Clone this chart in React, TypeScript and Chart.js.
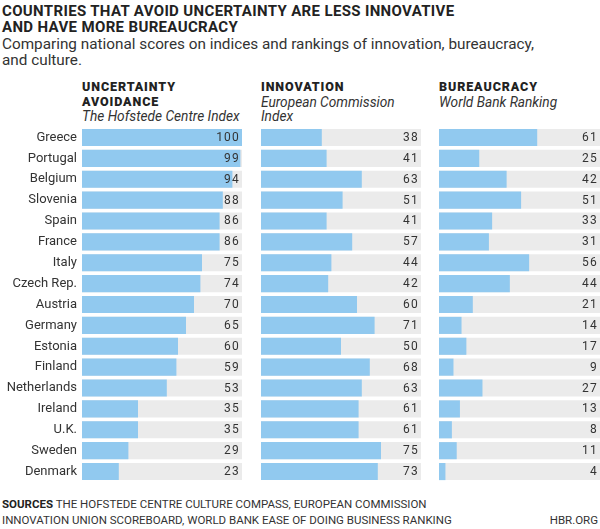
import React, { useEffect, useRef } from "react";
import { Chart, registerables } from "chart.js";

Chart.register(...registerables);

const countries = [
  "Greece", "Portugal", "Belgium", "Slovenia", "Spain", "France", "Italy", "Czech Rep.",
  "Austria", "Germany", "Estonia", "Finland", "Netherlands", "Ireland", "U.K.", "Sweden", "Denmark",
];
const uncertaintyAvoidance = [100, 99, 94, 88, 86, 86, 75, 74, 70, 65, 60, 59, 53, 35, 35, 29, 23];
const innovation = [38, 41, 63, 51, 41, 57, 44, 42, 60, 71, 50, 68, 63, 61, 61, 75, 73];
const bureaucracy = [61, 25, 42, 51, 33, 31, 56, 44, 21, 14, 17, 9, 27, 13, 8, 11, 4];
const scaleMax = 100;

const BLUE = "#91c9ef";
const GREY = "#ebebeb";
const TEXT = "#333333";
const FONT = "Roboto, 'Noto Sans', sans-serif";

const valueLabels = {
  id: "valueLabels",
  afterDatasetsDraw(chart: any) {
    const { ctx, chartArea } = chart;
    const meta = chart.getDatasetMeta(0);
    const data = chart.data.datasets[0].data;
    ctx.save();
    ctx.font = `12px ${FONT}`;
    ctx.fillStyle = TEXT;
    ctx.textAlign = "right";
    ctx.textBaseline = "middle";
    (ctx as any).letterSpacing = "1.2px";
    meta.data.forEach((bar: any, i: number) => {
      ctx.fillText(String(data[i]), chartArea.right - 2, bar.y + 0.5);
    });
    ctx.restore();
  },
};

function Panel(props: { values: number[]; left: number; width: number; axisWidth: number }) {
  const ref = useRef<HTMLCanvasElement | null>(null);
  const { values, left, width, axisWidth } = props;
  const height = 355;
  useEffect(() => {
    if (!ref.current) return;
    const chart = new Chart(ref.current, {
      type: "bar",
      data: {
        labels: countries,
        datasets: [
          {
            data: values,
            backgroundColor: BLUE,
            grouped: false,
            barPercentage: 0.82,
            categoryPercentage: 1,
          } as any,
          {
            data: countries.map(() => scaleMax),
            backgroundColor: GREY,
            grouped: false,
            barPercentage: 0.82,
            categoryPercentage: 1,
          } as any,
        ],
      },
      options: {
        indexAxis: "y",
        responsive: false,
        maintainAspectRatio: false,
        animation: false,
        devicePixelRatio: 1,
        layout: { padding: 0, autoPadding: false } as any,
        plugins: { legend: { display: false }, tooltip: { enabled: false } },
        scales: {
          x: { display: false, min: 0, max: scaleMax },
          y: {
            display: axisWidth > 0,
            grid: { display: false, drawTicks: false },
            border: { display: false },
            ticks: {
              padding: 5,
              color: TEXT,
              font: { family: FONT, size: 13 },
            },
            afterFit: (s: any) => {
              if (axisWidth > 0) s.width = axisWidth;
              s.paddingTop = 0;
              s.paddingBottom = 0;
            },
          },
        },
      },
      plugins: [valueLabels],
    });
    return () => chart.destroy();
  }, []);
  return (
    <canvas
      ref={ref}
      width={width}
      height={height}
      style={{ position: "absolute", left, top: 127, width, height }}
    />
  );
}

const headerBold: React.CSSProperties = { fontWeight: 900, fontSize: 12.5, letterSpacing: 0.9, color: "#222" };
const headerItalic: React.CSSProperties = { fontStyle: "italic", fontSize: 13.7, color: TEXT };

export default function App() {
  return (
    <div
      style={{
        position: "absolute",
        left: 0,
        top: 0,
        width: 600,
        height: 529,
        overflow: "hidden",
        background: "#fff",
        fontFamily: FONT,
      }}
    >
      <div style={{ position: "absolute", left: 2, top: 3, lineHeight: "16px", fontSize: 15, letterSpacing: 0.35, fontWeight: 700, color: "#222", whiteSpace: "nowrap" }}>
        COUNTRIES THAT AVOID UNCERTAINTY ARE LESS INNOVATIVE
        <br />
        AND HAVE MORE BUREAUCRACY
      </div>
      <div style={{ position: "absolute", left: 2, top: 36, lineHeight: "16px", fontSize: 15.3, color: TEXT, whiteSpace: "nowrap" }}>
        Comparing national scores on indices and rankings of innovation, bureaucracy,
        <br />
        and culture.
      </div>

      <div style={{ position: "absolute", left: 82, top: 80, lineHeight: "14.5px", whiteSpace: "nowrap" }}>
        <div style={headerBold}>UNCERTAINTY</div>
        <div style={headerBold}>AVOIDANCE</div>
        <div style={headerItalic}>The Hofstede Centre Index</div>
      </div>
      <div style={{ position: "absolute", left: 261, top: 80, lineHeight: "14.5px", whiteSpace: "nowrap" }}>
        <div style={headerBold}>INNOVATION</div>
        <div style={headerItalic}>European Commission</div>
        <div style={headerItalic}>Index</div>
      </div>
      <div style={{ position: "absolute", left: 439, top: 80, lineHeight: "14.5px", whiteSpace: "nowrap" }}>
        <div style={headerBold}>BUREAUCRACY</div>
        <div style={headerItalic}>World Bank Ranking</div>
      </div>

      <Panel values={uncertaintyAvoidance} left={0} width={242} axisWidth={82} />
      <Panel values={innovation} left={261} width={160} axisWidth={0} />
      <Panel values={bureaucracy} left={439} width={161} axisWidth={0} />

      <div style={{ position: "absolute", left: 2, top: 496, lineHeight: "16px", fontSize: 11.5, color: TEXT, whiteSpace: "nowrap" }}>
        <span style={{ fontWeight: 700, color: "#222" }}>SOURCES</span> THE HOFSTEDE CENTRE CULTURE COMPASS, EUROPEAN COMMISSION
        <br />
        INNOVATION UNION SCOREBOARD, WORLD BANK EASE OF DOING BUSINESS RANKING
      </div>
      <div style={{ position: "absolute", right: 2, top: 512, lineHeight: "16px", fontSize: 11.5, color: TEXT }}>
        HBR.ORG
      </div>
    </div>
  );
}
